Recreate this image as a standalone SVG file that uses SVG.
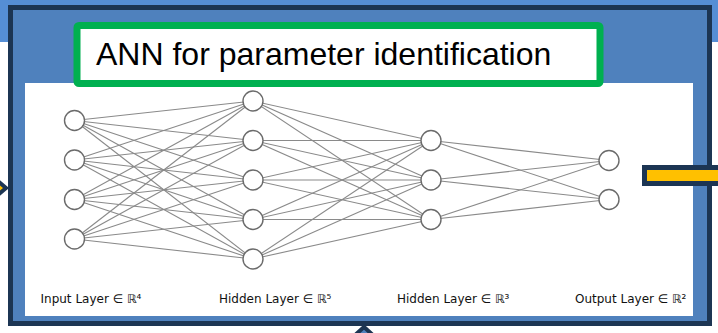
<svg xmlns="http://www.w3.org/2000/svg" width="718" height="333" viewBox="0 0 718 333">
  <style>
    .edge { stroke: #8a8a8a; stroke-width: 1.1; fill: none; }
    .neuron { fill: #ffffff; stroke: #6b6b6b; stroke-width: 1.4; }
    .lbl { font-family: "DejaVu Sans", Verdana, sans-serif; font-size: 12px; fill: #111111; }
    .title { font-family: "Liberation Sans", Arial, sans-serif; font-size: 32px; fill: #000000; }
  </style>

  <!-- page background -->
  <rect x="0" y="0" width="718" height="333" fill="#ffffff"/>
  <rect x="0" y="0" width="718" height="42" fill="#558ED5"/>

  <!-- incoming arrow on the left edge -->
  <polygon points="-14,171 6,188 -14,205" fill="#FFC000" stroke="#1C3553" stroke-width="4" stroke-linejoin="miter"/>

  <!-- outer panel -->
  <rect x="10.5" y="7.5" width="699" height="316" fill="#4F81BD" stroke="#1C3553" stroke-width="5"/>
  <rect x="25" y="83" width="668" height="233" fill="#ffffff"/>

  <!-- title box -->
  <g id="title">
    <rect x="77" y="25.5" width="523" height="58" rx="2" fill="#ffffff" stroke="#00B050" stroke-width="7"/>
    <text class="title" x="96" y="65">ANN for parameter identification</text>
  </g>

  <!-- connections -->
  <g id="connectors">
    <!-- input -> hidden 1 -->
    <line class="edge" x1="74.5" y1="120.5" x2="253" y2="101"/>
    <line class="edge" x1="74.5" y1="120.5" x2="253" y2="140.5"/>
    <line class="edge" x1="74.5" y1="120.5" x2="253" y2="180"/>
    <line class="edge" x1="74.5" y1="120.5" x2="253" y2="219.5"/>
    <line class="edge" x1="74.5" y1="120.5" x2="253" y2="259"/>
    <line class="edge" x1="74.5" y1="160" x2="253" y2="101"/>
    <line class="edge" x1="74.5" y1="160" x2="253" y2="140.5"/>
    <line class="edge" x1="74.5" y1="160" x2="253" y2="180"/>
    <line class="edge" x1="74.5" y1="160" x2="253" y2="219.5"/>
    <line class="edge" x1="74.5" y1="160" x2="253" y2="259"/>
    <line class="edge" x1="74.5" y1="199.5" x2="253" y2="101"/>
    <line class="edge" x1="74.5" y1="199.5" x2="253" y2="140.5"/>
    <line class="edge" x1="74.5" y1="199.5" x2="253" y2="180"/>
    <line class="edge" x1="74.5" y1="199.5" x2="253" y2="219.5"/>
    <line class="edge" x1="74.5" y1="199.5" x2="253" y2="259"/>
    <line class="edge" x1="74.5" y1="239" x2="253" y2="101"/>
    <line class="edge" x1="74.5" y1="239" x2="253" y2="140.5"/>
    <line class="edge" x1="74.5" y1="239" x2="253" y2="180"/>
    <line class="edge" x1="74.5" y1="239" x2="253" y2="219.5"/>
    <line class="edge" x1="74.5" y1="239" x2="253" y2="259"/>
    <!-- hidden 1 -> hidden 2 -->
    <line class="edge" x1="253" y1="101" x2="431" y2="140.5"/>
    <line class="edge" x1="253" y1="101" x2="431" y2="180"/>
    <line class="edge" x1="253" y1="101" x2="431" y2="219.5"/>
    <line class="edge" x1="253" y1="140.5" x2="431" y2="140.5"/>
    <line class="edge" x1="253" y1="140.5" x2="431" y2="180"/>
    <line class="edge" x1="253" y1="140.5" x2="431" y2="219.5"/>
    <line class="edge" x1="253" y1="180" x2="431" y2="140.5"/>
    <line class="edge" x1="253" y1="180" x2="431" y2="180"/>
    <line class="edge" x1="253" y1="180" x2="431" y2="219.5"/>
    <line class="edge" x1="253" y1="219.5" x2="431" y2="140.5"/>
    <line class="edge" x1="253" y1="219.5" x2="431" y2="180"/>
    <line class="edge" x1="253" y1="219.5" x2="431" y2="219.5"/>
    <line class="edge" x1="253" y1="259" x2="431" y2="140.5"/>
    <line class="edge" x1="253" y1="259" x2="431" y2="180"/>
    <line class="edge" x1="253" y1="259" x2="431" y2="219.5"/>
    <!-- hidden 2 -> output -->
    <line class="edge" x1="431" y1="140.5" x2="609" y2="160.5"/>
    <line class="edge" x1="431" y1="140.5" x2="609" y2="199.5"/>
    <line class="edge" x1="431" y1="180" x2="609" y2="160.5"/>
    <line class="edge" x1="431" y1="180" x2="609" y2="199.5"/>
    <line class="edge" x1="431" y1="219.5" x2="609" y2="160.5"/>
    <line class="edge" x1="431" y1="219.5" x2="609" y2="199.5"/>
  </g>

  <!-- input layer -->
  <g id="in1"><circle class="neuron" cx="74.5" cy="120.5" r="10"/></g>
  <g id="in2"><circle class="neuron" cx="74.5" cy="160" r="10"/></g>
  <g id="in3"><circle class="neuron" cx="74.5" cy="199.5" r="10"/></g>
  <g id="in4"><circle class="neuron" cx="74.5" cy="239" r="10"/></g>
  <!-- hidden layer 1 -->
  <g id="h1_1"><circle class="neuron" cx="253" cy="101" r="10"/></g>
  <g id="h1_2"><circle class="neuron" cx="253" cy="140.5" r="10"/></g>
  <g id="h1_3"><circle class="neuron" cx="253" cy="180" r="10"/></g>
  <g id="h1_4"><circle class="neuron" cx="253" cy="219.5" r="10"/></g>
  <g id="h1_5"><circle class="neuron" cx="253" cy="259" r="10"/></g>
  <!-- hidden layer 2 -->
  <g id="h2_1"><circle class="neuron" cx="431" cy="140.5" r="10"/></g>
  <g id="h2_2"><circle class="neuron" cx="431" cy="180" r="10"/></g>
  <g id="h2_3"><circle class="neuron" cx="431" cy="219.5" r="10"/></g>
  <!-- output layer -->
  <g id="out1"><circle class="neuron" cx="609" cy="160.5" r="10"/></g>
  <g id="out2"><circle class="neuron" cx="609" cy="199.5" r="10"/></g>

  <!-- layer captions -->
  <g id="captions">
    <text class="lbl" x="40.5" y="303">Input Layer ∈ ℝ⁴</text>
    <text class="lbl" x="219" y="303">Hidden Layer ∈ ℝ⁵</text>
    <text class="lbl" x="397" y="303">Hidden Layer ∈ ℝ³</text>
    <text class="lbl" x="575" y="303">Output Layer ∈ ℝ²</text>
  </g>

  <!-- outgoing bar on the right edge -->
  <rect x="644.5" y="167.5" width="80" height="16" fill="#FFC000" stroke="#1C3553" stroke-width="5"/>

  <!-- arrow entering from below -->
  <polygon points="342,347 364,327 386,347" fill="#4F81BD" stroke="#1C3553" stroke-width="4"/>
</svg>
